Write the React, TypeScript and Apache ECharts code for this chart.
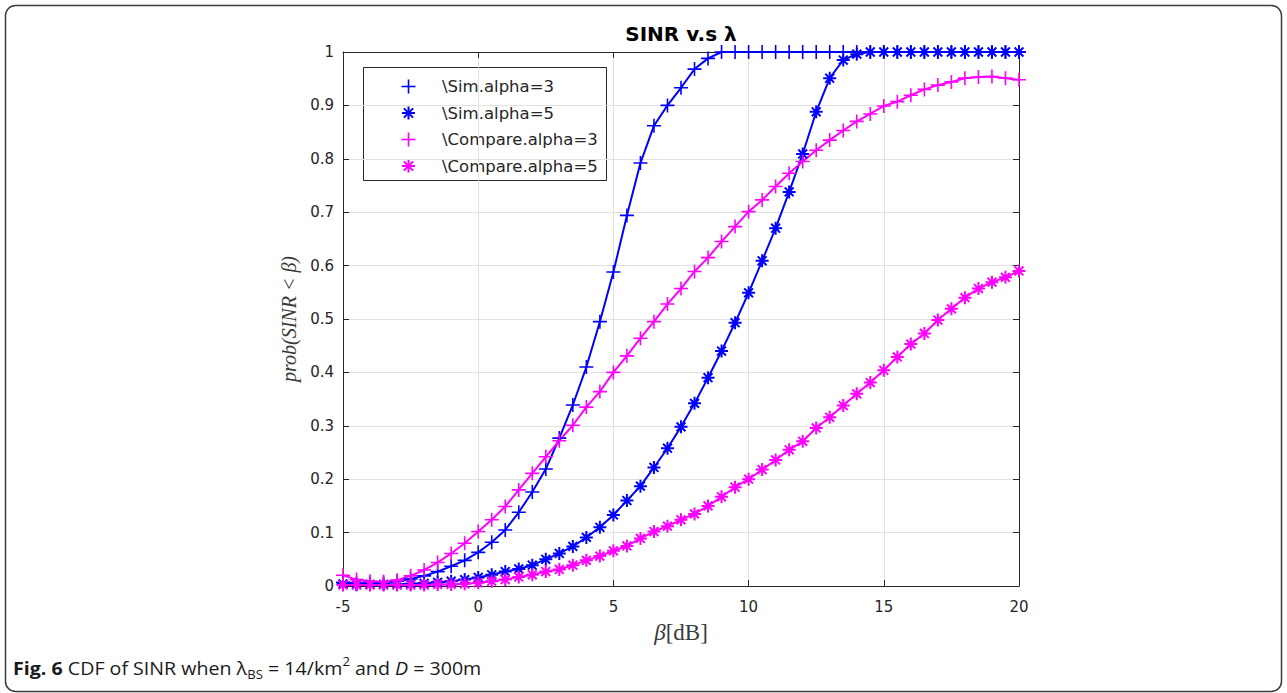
import React, { useEffect, useRef } from "react";
import * as echarts from "echarts";

// SINR threshold (dB) sampled every 0.5 dB
const beta = [
  -5, -4.5, -4, -3.5, -3, -2.5, -2, -1.5, -1, -0.5, 0, 0.5, 1, 1.5, 2, 2.5, 3,
  3.5, 4, 4.5, 5, 5.5, 6, 6.5, 7, 7.5, 8, 8.5, 9, 9.5, 10, 10.5, 11, 11.5, 12,
  12.5, 13, 13.5, 14, 14.5, 15, 15.5, 16, 16.5, 17, 17.5, 18, 18.5, 19, 19.5, 20,
];

const simAlpha3 = [
  0.007, 0.005, 0.005, 0.006, 0.009, 0.013, 0.019, 0.027, 0.037, 0.048, 0.063,
  0.082, 0.105, 0.138, 0.176, 0.219, 0.277, 0.339, 0.41, 0.495, 0.588, 0.694,
  0.792, 0.862, 0.9, 0.933, 0.968, 0.988, 1, 1, 1, 1, 1, 1, 1, 1, 1, 1, 1, 1, 1,
  1, 1, 1, 1, 1, 1, 1, 1, 1, 1,
];

const simAlpha5 = [
  0.004, 0.003, 0.003, 0.003, 0.003, 0.004, 0.005, 0.007, 0.009, 0.012, 0.016,
  0.021, 0.027, 0.032, 0.039, 0.05, 0.061, 0.074, 0.091, 0.11, 0.133, 0.16,
  0.187, 0.222, 0.258, 0.298, 0.342, 0.39, 0.44, 0.493, 0.549, 0.609, 0.67,
  0.738, 0.809, 0.888, 0.951, 0.985, 0.996, 1, 1, 1, 1, 1, 1, 1, 1, 1, 1, 1, 1,
];

const compareAlpha3 = [
  0.02, 0.012, 0.009, 0.008, 0.011, 0.019, 0.03, 0.044, 0.061, 0.08, 0.102,
  0.124, 0.149, 0.18, 0.211, 0.242, 0.272, 0.301, 0.335, 0.364, 0.4, 0.431,
  0.464, 0.495, 0.528, 0.557, 0.589, 0.615, 0.645, 0.673, 0.701, 0.723, 0.748,
  0.773, 0.795, 0.816, 0.835, 0.853, 0.87, 0.884, 0.899, 0.907, 0.919, 0.93,
  0.938, 0.944, 0.951, 0.953, 0.954, 0.951, 0.948,
];

const compareAlpha5 = [
  0.002, 0.002, 0.002, 0.002, 0.002, 0.002, 0.002, 0.003, 0.003, 0.004, 0.006,
  0.009, 0.012, 0.017, 0.021, 0.027, 0.031, 0.039, 0.048, 0.056, 0.066, 0.075,
  0.089, 0.102, 0.112, 0.124, 0.135, 0.15, 0.167, 0.185, 0.2, 0.218, 0.236,
  0.255, 0.271, 0.296, 0.316, 0.338, 0.36, 0.381, 0.404, 0.429, 0.453, 0.473,
  0.498, 0.519, 0.54, 0.557, 0.569, 0.578, 0.59,
];

const xTicks = [-5, 0, 5, 10, 15, 20];
const yTicks = [0, 0.1, 0.2, 0.3, 0.4, 0.5, 0.6, 0.7, 0.8, 0.9, 1];

const seriesNames = [
  "\\Sim.alpha=3",
  "\\Sim.alpha=5",
  "\\Compare.alpha=3",
  "\\Compare.alpha=5",
];

const BLUE = "#0000ff";
const MAGENTA = "#ff00ff";
const AXIS = "#262626";

const PLUS = "path://M0,5L10,5M5,0L5,10";
const STAR = "path://M5,0L5,10M0,5L10,5M1.6,1.6L8.4,8.4M1.6,8.4L8.4,1.6";

const GRID = { left: 343, top: 52, width: 676, height: 534 };

function pairs(ys: number[]) {
  return beta.map((b, i) => [b, ys[i]]);
}

function makeSeries(name: string, ys: number[], color: string, star: boolean) {
  return {
    name,
    type: "line",
    data: pairs(ys),
    symbol: star ? STAR : PLUS,
    symbolSize: star ? 13 : 14,
    symbolKeepAspect: true,
    clip: false,
    lineStyle: { color, width: 2 },
    itemStyle: { color: "none", borderColor: color, borderWidth: star ? 2 : 1.6 },
    emphasis: { disabled: true },
  };
}

function legendMarker(cx: number, cy: number, color: string, star: boolean) {
  const h = star ? 6.5 : 7;
  const d = 4.6;
  const lines: any[] = [
    { type: "line", shape: { x1: cx - h, y1: cy, x2: cx + h, y2: cy } },
    { type: "line", shape: { x1: cx, y1: cy - h, x2: cx, y2: cy + h } },
  ];
  if (star) {
    lines.push(
      { type: "line", shape: { x1: cx - d, y1: cy - d, x2: cx + d, y2: cy + d } },
      { type: "line", shape: { x1: cx - d, y1: cy + d, x2: cx + d, y2: cy - d } }
    );
  }
  return {
    type: "group",
    children: lines.map((l) => ({
      ...l,
      style: { stroke: color, lineWidth: star ? 2 : 1.6 },
    })),
  };
}

export default function App() {
  const ref = useRef<HTMLDivElement>(null);

  useEffect(() => {
    if (!ref.current) return;
    const chart = echarts.init(ref.current, undefined, { renderer: "svg" });

    const tickFont = {
      fontFamily: "DejaVu Sans",
      fontSize: 15,
      color: AXIS,
    };

    const legendColors = [BLUE, BLUE, MAGENTA, MAGENTA];
    const legendStar = [false, true, false, true];
    const legendRowsY = [86.5, 113, 139.5, 166];

    const legendChildren: any[] = [
      {
        type: "rect",
        shape: { x: 363.5, y: 67.5, width: 243, height: 113 },
        style: { fill: "#ffffff", stroke: AXIS, lineWidth: 1 },
      },
    ];
    seriesNames.forEach((n, i) => {
      legendChildren.push(legendMarker(408.5, legendRowsY[i], legendColors[i], legendStar[i]));
      legendChildren.push({
        type: "text",
        x: 442,
        y: legendRowsY[i],
        style: {
          text: n,
          fill: AXIS,
          font: "16.5px 'DejaVu Sans'",
          verticalAlign: "middle",
        },
      });
    });

    chart.setOption({
      animation: false,
      backgroundColor: "#ffffff",
      grid: { ...GRID, containLabel: false },
      xAxis: [
        {
          type: "value",
          min: xTicks[0],
          max: xTicks[xTicks.length - 1],
          interval: xTicks[1] - xTicks[0],
          position: "bottom",
          axisLine: { show: true, onZero: false, lineStyle: { color: AXIS, width: 1 } },
          axisTick: { show: true, inside: true, length: 6, lineStyle: { color: AXIS } },
          axisLabel: { ...tickFont, margin: 13 },
          splitLine: { show: true, lineStyle: { color: "#e1e1e1", width: 1 } },
          name: "{i|β}{n|[dB]}",
          nameLocation: "middle",
          nameGap: 35,
          nameTextStyle: {
            color: "#3a3a3a",
            rich: {
              i: { fontFamily: "Liberation Serif", fontStyle: "italic", fontSize: 23, color: "#3a3a3a" },
              n: { fontFamily: "Liberation Serif", fontSize: 23, color: "#3a3a3a" },
            },
          },
        },
        {
          type: "value",
          min: xTicks[0],
          max: xTicks[xTicks.length - 1],
          interval: xTicks[1] - xTicks[0],
          position: "top",
          axisLine: { show: true, onZero: false, lineStyle: { color: AXIS, width: 1 } },
          axisTick: { show: true, inside: true, length: 6, lineStyle: { color: AXIS } },
          axisLabel: { show: false },
          splitLine: { show: false },
        },
      ],
      yAxis: [
        {
          type: "value",
          min: yTicks[0],
          max: yTicks[yTicks.length - 1],
          interval: 0.1,
          position: "left",
          axisLine: { show: true, onZero: false, lineStyle: { color: AXIS, width: 1 } },
          axisTick: { show: true, inside: true, length: 6, lineStyle: { color: AXIS } },
          axisLabel: {
            ...tickFont,
            margin: 9,
            formatter: (v: number) => String(Math.round(v * 10) / 10),
          },
          splitLine: { show: true, lineStyle: { color: "#e1e1e1", width: 1 } },
          name: "prob(SINR < β)",
          nameLocation: "middle",
          nameRotate: 90,
          nameGap: 43,
          nameTextStyle: {
            fontFamily: "Liberation Serif",
            fontStyle: "italic",
            fontSize: 20,
            color: "#3a3a3a",
          },
        },
        {
          type: "value",
          min: yTicks[0],
          max: yTicks[yTicks.length - 1],
          interval: 0.1,
          position: "right",
          axisLine: { show: true, onZero: false, lineStyle: { color: AXIS, width: 1 } },
          axisTick: { show: true, inside: true, length: 6, lineStyle: { color: AXIS } },
          axisLabel: { show: false },
          splitLine: { show: false },
        },
      ],
      series: [
        makeSeries(seriesNames[0], simAlpha3, BLUE, false),
        makeSeries(seriesNames[1], simAlpha5, BLUE, true),
        makeSeries(seriesNames[2], compareAlpha3, MAGENTA, false),
        makeSeries(seriesNames[3], compareAlpha5, MAGENTA, true),
      ],
      graphic: [
        {
          type: "rect",
          z: 0,
          shape: { x: 5.5, y: 5.5, width: 1276, height: 686, r: 10 },
          style: { fill: "none", stroke: "#3c3c3c", lineWidth: 1.5 },
        },
        {
          type: "text",
          x: 681,
          y: 34,
          style: {
            text: "SINR v.s λ",
            font: "bold 20px 'DejaVu Sans'",
            fill: "#000000",
            align: "center",
            verticalAlign: "middle",
          },
        },
        { type: "group", z: 100, children: legendChildren },
        {
          type: "text",
          x: 13,
          y: 668,
          scaleX: 1.09,
          style: {
            text: "{b|Fig. 6} CDF of SINR when λ{sub|BS} = 14/km{sup|2} and {i|D} = 300m",
            font: "18px 'Open Sans'",
            fill: "#1a1a1a",
            verticalAlign: "middle",
            rich: {
              b: { fontWeight: "bold", fontSize: 18, fontFamily: "Open Sans", fill: "#1a1a1a" },
              sub: { fontSize: 12, fontFamily: "Open Sans", verticalAlign: "bottom", lineHeight: 12, padding: [0, 0, -4, 0], fill: "#1a1a1a" },
              sup: { fontSize: 12, fontFamily: "Open Sans", verticalAlign: "top", lineHeight: 12, padding: [-3, 0, 0, 0], fill: "#1a1a1a" },
              i: { fontStyle: "italic", fontSize: 18, fontFamily: "Open Sans", fill: "#1a1a1a" },
            },
          },
        },
      ],
    });

    return () => chart.dispose();
  }, []);

  return (
    <div
      ref={ref}
      style={{ position: "absolute", left: 0, top: 0, width: 1287, height: 693, background: "#fff" }}
    />
  );
}
